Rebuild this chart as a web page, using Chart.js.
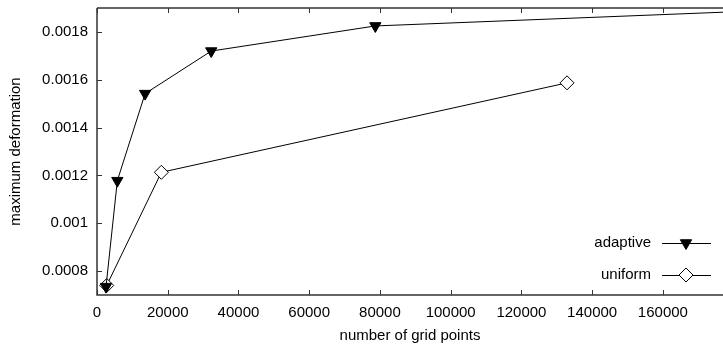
<!DOCTYPE html>
<html lang="en">
<head>
    <title>maximum deformation</title>
    <meta charset="utf-8">
    <script src="https://cdn.jsdelivr.net/npm/chart.js"></script>
<style>
        body {
            margin: 0;
            background: white;
        }
        #wrap {
            width: 723px;
            height: 347px;
            position: relative;
        }
    </style>
</head>
<body>
    <div id="wrap">
        <canvas id="defChart"></canvas>
    </div>

    <script>
        const adaptiveX = [2550, 5750, 13600, 32300, 78700, 190000];
        const adaptiveY = [0.000735, 0.001178, 0.001542, 0.001720, 0.001825, 0.00189];
        const uniformX = [2750, 18200, 132900];
        const uniformY = [0.000740, 0.001213, 0.001587];

        const xTicks = [0, 20000, 40000, 60000, 80000, 100000, 120000, 140000, 160000];
        const yTicks = [0.0008, 0.001, 0.0012, 0.0014, 0.0016, 0.0018];
        const yLabels = ['0.0008', '0.001', '0.0012', '0.0014', '0.0016', '0.0018'];

        const font = { family: 'Liberation Sans, Arial, sans-serif', size: 15 };

        function toPoints(xs, ys) {
            return xs.map(function (x, i) { return { x: x, y: ys[i] }; });
        }

        // gnuplot style box with inward ticks + key in the lower right
        const framePlugin = {
            id: 'frame',
            afterDraw: function (chart) {
                const ctx = chart.ctx;
                const a = chart.chartArea;
                const xs = chart.scales.x, ys = chart.scales.y;
                ctx.save();
                ctx.strokeStyle = '#333';
                ctx.lineWidth = 1.5;
                ctx.beginPath();
                ctx.moveTo(a.left, a.top);
                ctx.lineTo(a.left, a.bottom);
                ctx.lineTo(a.right, a.bottom);
                ctx.moveTo(a.left, a.top);
                ctx.lineTo(a.right, a.top);
                ctx.stroke();

                ctx.lineWidth = 1;
                ctx.beginPath();
                xTicks.forEach(function (v) {
                    const px = Math.round(xs.getPixelForValue(v)) + 0.5;
                    ctx.moveTo(px, a.bottom);
                    ctx.lineTo(px, a.bottom - 5);
                    ctx.moveTo(px, a.top);
                    ctx.lineTo(px, a.top + 5);
                });
                yTicks.forEach(function (v) {
                    const py = Math.round(ys.getPixelForValue(v)) + 0.5;
                    ctx.moveTo(a.left, py);
                    ctx.lineTo(a.left + 5, py);
                });
                ctx.stroke();

                // key
                ctx.font = font.size + 'px ' + font.family;
                ctx.fillStyle = '#000';
                ctx.textAlign = 'right';
                ctx.textBaseline = 'middle';
                const rows = [243, 275];
                chart.data.datasets.forEach(function (ds, i) {
                    const y = rows[i];
                    ctx.fillText(ds.label, 651, y);
                    ctx.strokeStyle = '#000';
                    ctx.lineWidth = 1;
                    ctx.beginPath();
                    ctx.moveTo(662, y + 0.5);
                    ctx.lineTo(711, y + 0.5);
                    ctx.stroke();
                    ctx.fillStyle = ds.pointBackgroundColor;
                    ctx.strokeStyle = ds.pointBorderColor;
                    Chart.helpers.drawPoint(ctx, {
                        pointStyle: ds.pointStyle,
                        rotation: ds.pointRotation,
                        radius: ds.pointRadius,
                        borderWidth: ds.pointBorderWidth
                    }, 686, y);
                    ctx.fillStyle = '#000';
                });
                ctx.restore();
            }
        };

        new Chart(document.getElementById('defChart'), {
            type: 'line',
            data: {
                datasets: [
                    {
                        label: 'adaptive',
                        data: toPoints(adaptiveX, adaptiveY),
                        borderColor: '#000',
                        borderWidth: 1,
                        pointStyle: 'triangle',
                        pointRotation: 180,
                        pointRadius: 6.5,
                        pointBackgroundColor: '#000',
                        pointBorderColor: '#000',
                        pointBorderWidth: 1,
                        fill: false,
                        tension: 0
                    },
                    {
                        label: 'uniform',
                        data: toPoints(uniformX, uniformY),
                        borderColor: '#000',
                        borderWidth: 1,
                        pointStyle: 'rectRot',
                        pointRotation: 0,
                        pointRadius: 7,
                        pointBackgroundColor: '#fff',
                        pointBorderColor: '#000',
                        pointBorderWidth: 1,
                        fill: false,
                        tension: 0
                    }
                ]
            },
            options: {
                responsive: true,
                maintainAspectRatio: false,
                animation: false,
                layout: {
                    autoPadding: false,
                    padding: { top: 8, right: 0, left: 0, bottom: 0 }
                },
                plugins: {
                    legend: { display: false },
                    tooltip: { enabled: false }
                },
                scales: {
                    x: {
                        type: 'linear',
                        min: 0,
                        max: 177000,
                        grid: { display: false, drawTicks: false },
                        border: { display: false },
                        afterBuildTicks: function (scale) {
                            scale.ticks = xTicks.map(function (v) { return { value: v }; });
                        },
                        afterFit: function (scale) {
                            scale.height = 52;
                            scale.paddingLeft = 0;
                            scale.paddingRight = 0;
                        },
                        ticks: {
                            color: '#000',
                            font: font,
                            padding: 9,
                            maxRotation: 0,
                            callback: function (v) { return String(v); }
                        },
                        title: {
                            display: true,
                            text: 'number of grid points',
                            color: '#000',
                            font: font,
                            padding: { top: 0, bottom: 2 }
                        }
                    },
                    y: {
                        min: 0.0007,
                        max: 0.0019,
                        grid: { display: false, drawTicks: false },
                        border: { display: false },
                        afterBuildTicks: function (scale) {
                            scale.ticks = yTicks.map(function (v) { return { value: v }; });
                        },
                        afterFit: function (scale) {
                            scale.width = 97;
                            scale.paddingTop = 0;
                            scale.paddingBottom = 0;
                        },
                        ticks: {
                            color: '#000',
                            font: font,
                            padding: 9,
                            callback: function (v, i) { return yLabels[i]; }
                        },
                        title: {
                            display: true,
                            text: 'maximum deformation',
                            color: '#000',
                            font: font,
                            padding: { top: 7, bottom: 0 }
                        }
                    }
                }
            },
            plugins: [framePlugin]
        });
    </script>
</body>
</html>
